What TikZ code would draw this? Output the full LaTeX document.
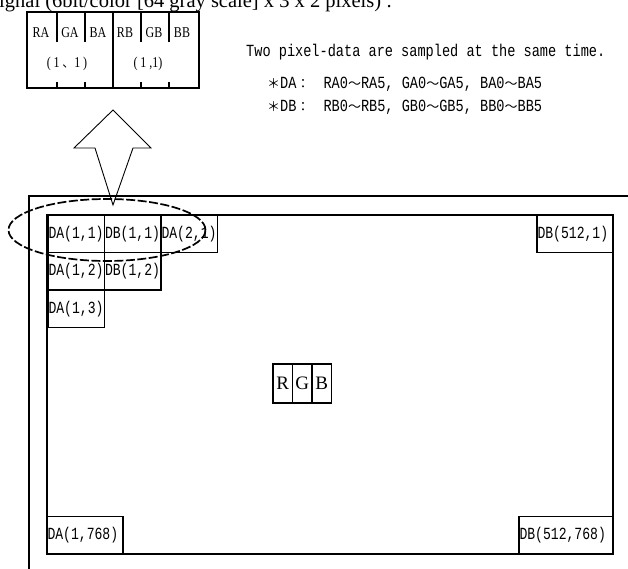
\documentclass[tikz,border=0pt]{standalone}
\usepackage{fontspec}
\setmainfont{Liberation Serif}
\newfontfamily\cellfont[FakeStretch=0.77]{Liberation Mono}
\newfontfamily\notefont[FakeStretch=0.8]{Liberation Mono}
\newfontfamily\labfont[FakeStretch=0.8]{Liberation Serif}
\newfontfamily\cjk{Noto Sans CJK JP}
\usetikzlibrary{positioning, shapes.geometric}
\tikzset{
  pix/.style={draw, line width=1.3pt, outer sep=0pt, inner sep=0.5pt, text width=55.5pt, align=left,
    minimum height=37.5pt, font=\cellfont\fontsize{17}{17}\selectfont},
  rgbbox/.style={draw, line width=1.3pt, outer sep=0pt, inner sep=0pt, minimum width=19.5pt,
    minimum height=39pt, font=\fontsize{19}{19}\selectfont},
  frm/.style={line width=1.2pt},
  note/.style={anchor=base west, inner sep=0pt, font=\notefont\fontsize{17}{17}\selectfont},
  chan/.style={anchor=base, inner sep=0pt, font=\labfont\fontsize{15}{15}\selectfont},
  sel/.style={draw, ellipse, line width=1.7pt, dash pattern=on 9pt off 2.5pt, inner sep=0pt}
}
\newcommand{\fw}[1]{{\cjk\fontsize{13}{13}\selectfont #1}}
\begin{document}
\begin{tikzpicture}[x=1pt, y=-1pt]
	\useasboundingbox (0,0) rectangle (628,569);
	% title, cut at the top
	\node[anchor=base west, inner sep=0pt, font=\fontsize{20.5}{20.5}\selectfont] (ttl) at (-1,8) {ignal (6bit/color [64 gray scale] x 3 x 2 pixels) :};
	% two sampled pixels
	\node[draw, line width=1.2pt, outer sep=0pt, minimum width=86pt, minimum height=76pt, anchor=north west] (pa) at (27,12) {};
	\node[draw, line width=1.2pt, outer sep=0pt, minimum width=86pt, minimum height=76pt, right=0pt of pa] (pb) {};
	\foreach \x in {57,85,141,169} {
		\draw[frm] (\x,12) -- (\x,42);
		\draw[frm] (\x,82) -- (\x,88);
	}
	\node[chan] (ra) at (41,38) {RA};
	\node[chan] (ga) at (70,38) {GA};
	\node[chan] (ba) at (98,38) {BA};
	\node[chan] (rb) at (125,38) {RB};
	\node[chan] (gb) at (154,38) {GB};
	\node[chan] (bb) at (182,38) {BB};
	\node[chan] (ca) at (67,68) {( 1\,{\cjk\fontsize{12}{12}\selectfont 、}1 )};
	\node[chan] (cb) at (148,68) {( 1 ,1)};
	% notes
	\node[note] (two) at (246,57) {Two pixel-data are sampled at the same time.};
	\node[note] (nda) at (267,89) {\fw{＊}DA\fw{：}\hspace{14pt}RA0\fw{～}RA5, GA0\fw{～}GA5, BA0\fw{～}BA5};
	\node[note] (ndb) at (267,112) {\fw{＊}DB\fw{：}\hspace{14pt}RB0\fw{～}RB5, GB0\fw{～}GB5, BB0\fw{～}BB5};
	% block arrow
	\draw[line width=0.9pt] (113,110) -- (151,148) -- (133,148) -- (113,205) -- (95,148) -- (74,148) -- cycle;
	% screen
	\draw[frm] (628,196) -- (29,196) -- (29,569);
	\draw[frm] (47,215) rectangle (613,554);
	\node[pix, anchor=north west] (da11) at (48,215) {DA(1,1)};
	\node[pix, right=0pt of da11] (db11) {DB(1,1)};
	\node[pix, right=0pt of db11] (da21) {DA(2,1)};
	\node[pix, below=0pt of da11] (da12) {DA(1,2)};
	\node[pix, right=0pt of da12] (db12) {DB(1,2)};
	\node[pix, below=0pt of da12] (da13) {DA(1,3)};
	\node[pix, anchor=north east, text width=75pt] (db5121) at (613,215) {DB(512,1)};
	\node[pix, anchor=south west, text width=75pt] (da1768) at (47,554) {DA(1,768)};
	\node[pix, anchor=south east, text width=93pt] (db512768) at (613,554) {DB(512,768)};
	% one pixel
	\node[rgbbox, anchor=north west] (r) at (273,364) {R};
	\node[rgbbox, right=0pt of r] (g) {G};
	\node[rgbbox, right=0pt of g] (b) {B};
	% selection
	\node[sel, minimum width=197pt, minimum height=62pt] (pair) at (107,230) {};
\end{tikzpicture}
\end{document}
